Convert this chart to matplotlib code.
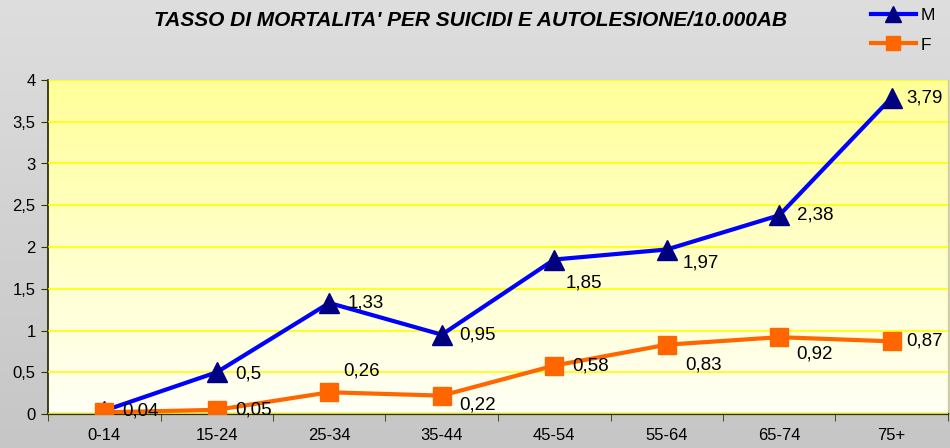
import matplotlib
matplotlib.use("Agg")
import matplotlib.pyplot as plt
import numpy as np
from matplotlib.colors import LinearSegmentedColormap

plt.rcParams['font.family'] = ['Liberation Sans', 'DejaVu Sans']

# data
fasce = ['0-14', '15-24', '25-34', '35-44', '45-54', '55-64', '65-74', '75+']
maschi = [0.04, 0.5, 1.33, 0.95, 1.85, 1.97, 2.38, 3.79]
femmine = [0.02, 0.05, 0.26, 0.22, 0.58, 0.83, 0.92, 0.87]
etichette_m = ['0,04', '0,5', '1,33', '0,95', '1,85', '1,97', '2,38', '3,79']
etichette_f = ['', '0,05', '0,26', '0,22', '0,58', '0,83', '0,92', '0,87']

# label offsets in pixels (dx, dy up)
off_m = [(18, 0), (18, -2), (18, 0), (18, 0), (11, -23), (16, -13), (18, 0), (15, 0)]
off_f = [(0, 0), (18, 0), (14, 21), (18, -9), (18, 0), (19, -20), (17, -17), (15, 0)]

fig = plt.figure(figsize=(9.5, 4.48), dpi=100)

# grey gradient background
bg = fig.add_axes([0, 0, 1, 1], zorder=-10)
grey = LinearSegmentedColormap.from_list('g', ['#c6c6c6', '#dedede'])
bg.imshow(np.linspace(0, 1, 256).reshape(-1, 1), aspect='auto', cmap=grey,
          origin='lower', extent=[0, 1, 0, 1])
bg.axis('off')

ax = fig.add_axes([48/950, 34/448, 900/950, 334/448])
x = np.arange(len(fasce))

# yellow gradient plot area
yel = LinearSegmentedColormap.from_list('y', ['#fffff6', '#ffff99'])
ax.imshow(np.linspace(0, 1, 256).reshape(-1, 1), aspect='auto', cmap=yel,
          origin='lower', extent=[-0.5, len(fasce) - 0.5, 0, 4], zorder=0)

ax.set_xlim(-0.5, len(fasce) - 0.5)
ax.set_ylim(0, 4)
ax.set_yticks(np.arange(0, 4.01, 0.5))
ax.set_yticklabels(['0', '0,5', '1', '1,5', '2', '2,5', '3', '3,5', '4'])
ax.grid(axis='y', color='#ffff00', linewidth=1.2, zorder=1)
ax.set_axisbelow(False)

ax.plot(x, maschi, color='#0000ff', linewidth=3, marker='^', markersize=14,
        markerfacecolor='#000080', markeredgecolor='#000080', label='M', zorder=3)
ax.plot(x, femmine, color='#ff6600', linewidth=3, marker='s', markersize=12.5,
        markerfacecolor='#ff6600', markeredgecolor='#ff6600', label='F', zorder=4)

px = 72 / 100
for i in range(len(fasce)):
    if etichette_m[i]:
        ax.annotate(etichette_m[i], (x[i], maschi[i]), xytext=(off_m[i][0]*px, off_m[i][1]*px),
                    textcoords='offset points', ha='left', va='center', fontsize=13.5, zorder=5)
    if etichette_f[i]:
        ax.annotate(etichette_f[i], (x[i], femmine[i]), xytext=(off_f[i][0]*px, off_f[i][1]*px),
                    textcoords='offset points', ha='left', va='center', fontsize=13.5, zorder=5)

# category ticks between groups
ax.set_xticks(x)
ax.set_xticklabels(fasce, fontsize=12)
ax.tick_params(axis='x', length=0, pad=10)
ax.set_xticks(np.arange(-0.5, len(fasce)), minor=True)
ax.tick_params(axis='x', which='minor', length=5, color='#333300', direction='out')
ax.tick_params(axis='y', labelsize=12, length=5, color='#333300', direction='out', pad=4)

ax.spines['top'].set_visible(False)
ax.spines['right'].set_color('#d0d090')
ax.spines['right'].set_linewidth(1)
ax.spines['left'].set_color('#222200')
ax.spines['bottom'].set_color('#333300')
ax.spines['bottom'].set_linewidth(1.6)
ax.spines['left'].set_linewidth(1.2)

fig.text(471/950, 1 - 20/448, "TASSO DI MORTALITA' PER SUICIDI E AUTOLESIONE/10.000AB",
         ha='center', va='center', fontsize=15, fontweight='bold', fontstyle='italic')

leg = ax.legend(loc='center left', bbox_to_anchor=(862/950, 1 - 30/448),
                bbox_transform=fig.transFigure, frameon=False, fontsize=12.5,
                handlelength=2.6, handletextpad=0.3, labelspacing=0.85, borderpad=0,
                markerscale=0.85)

fig.savefig('out.png', dpi=100)
